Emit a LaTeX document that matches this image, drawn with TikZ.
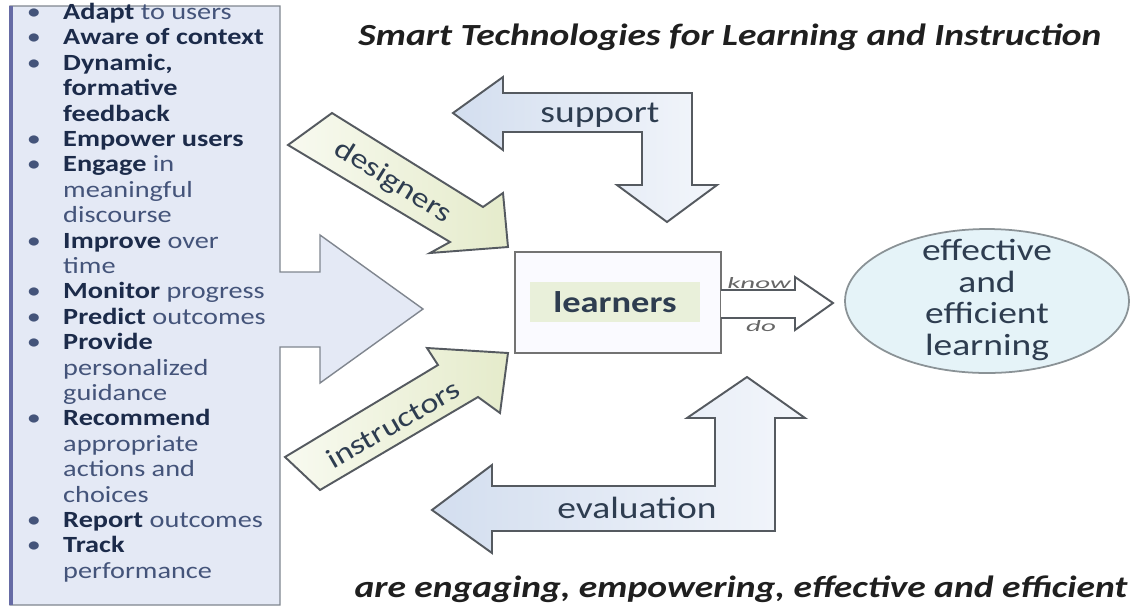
\documentclass[tikz,border=0pt]{standalone}
\usepackage{fontspec}
\setmainfont{Carlito}[FakeStretch=1.22]
\usetikzlibrary{shapes.geometric}
\definecolor{listfill}{HTML}{E4E9F5}
\definecolor{listline}{HTML}{80868F}
\definecolor{arrowline}{HTML}{555A60}
\definecolor{blueA}{HTML}{D3DEEF}
\definecolor{blueB}{HTML}{F3F6FB}
\definecolor{greenA}{HTML}{F8FAF0}
\definecolor{greenB}{HTML}{E5EBCB}
\definecolor{ellfill}{HTML}{E5F3F8}
\definecolor{ellline}{HTML}{8A9296}
\definecolor{bandgreen}{HTML}{E9F0DA}
\definecolor{kwcol}{HTML}{1C2B4A}
\definecolor{rgcol}{HTML}{44547A}
\definecolor{labcol}{HTML}{2E3D50}
\newcommand{\bul}{\makebox[22.7pt][l]{\hspace{2pt}\textbullet}}
\newcommand{\ind}{\hspace*{22.7pt}}
\newcommand{\kw}[1]{\textbf{\color{kwcol}#1}}
\newcommand{\li}[2]{\node[listtext] (li#1) at (23,{19.5+25.4*#1}) {#2};}
\begin{document}
\begin{tikzpicture}[x=0.02cm,y=-0.02cm,
  listtext/.style={anchor=base west, inner sep=0pt, text=rgcol, font=\fontsize{13.2}{15}\selectfont},
  blockarrow/.style={draw=arrowline, line width=1.1pt, line join=miter},
  bluefill/.style={left color=blueA, right color=blueB},
  greenfill/.style={left color=greenA, right color=greenB},
  arrowlabel/.style={text=labcol, font=\fontsize{17.5}{20}\selectfont, inner sep=0pt},
  diaglabel/.style={text=labcol, font=\fontsize{16}{18}\selectfont, inner sep=0pt},
  heading/.style={text=black!88, font=\bfseries\itshape\fontsize{17.5}{20}\selectfont, inner sep=0pt}]
\useasboundingbox (0,0) rectangle (1134,610);
\fill[white] (0,0) rectangle (1134,610);

% list box with big arrow
\draw[draw=listline, line width=0.8pt, fill=listfill]
  (10,6) -- (280,6) -- (280,272) -- (320,272) -- (320,235) -- (423,309)
  -- (320,383) -- (320,347) -- (280,347) -- (280,605) -- (10,605) -- cycle;
\draw[draw=listline!80!blue, line width=2pt] (11,6) -- (11,605);

% list text
\li{0}{\bul\kw{Adapt} to users}
\li{1}{\bul\kw{Aware of context}}
\li{2}{\bul\kw{Dynamic,}}
\li{3}{\ind\kw{formative}}
\li{4}{\ind\kw{feedback}}
\li{5}{\bul\kw{Empower users}}
\li{6}{\bul\kw{Engage} in}
\li{7}{\ind meaningful}
\li{8}{\ind discourse}
\li{9}{\bul\kw{Improve} over}
\li{10}{\ind time}
\li{11}{\bul\kw{Monitor} progress}
\li{12}{\bul\kw{Predict} outcomes}
\li{13}{\bul\kw{Provide}}
\li{14}{\ind personalized}
\li{15}{\ind guidance}
\li{16}{\bul\kw{Recommend}}
\li{17}{\ind appropriate}
\li{18}{\ind actions and}
\li{19}{\ind choices}
\li{20}{\bul\kw{Report} outcomes}
\li{21}{\bul\kw{Track}}
\li{22}{\ind performance}

% support arrow
\draw[blockarrow, bluefill]
  (453,113) -- (503,77) -- (503,93) -- (692,93) -- (692,185) -- (717,185)
  -- (667,222) -- (617,185) -- (642,185) -- (642,132) -- (503,132) -- (503,150) -- cycle;
\node[arrowlabel] (support) at (600,115) {support};

% evaluation arrow
\draw[blockarrow, bluefill]
  (432,510) -- (492,465) -- (492,486) -- (715,486) -- (715,418) -- (687,418)
  -- (747,377) -- (805,418) -- (775,418) -- (775,531) -- (492,531) -- (492,553) -- cycle;
\node[arrowlabel] (evaluation) at (637,508) {evaluation};

% designers arrow
\draw[blockarrow, greenfill]
  (288,145) -- (332,113) -- (483,207) -- (503,193) -- (508,247)
  -- (430,253) -- (450,242) -- cycle;
\node[diaglabel, rotate=-32] (designers) at (393,182) {designers};

% instructors arrow
\draw[blockarrow, greenfill]
  (285,457) -- (438,365) -- (427,348) -- (508,353) -- (500,413)
  -- (478,397) -- (320,490) -- cycle;
\node[diaglabel, rotate=30] (instructors) at (393,424) {instructors};

% learners box
\node[draw=black!55, line width=1.4pt, fill=blue!2, minimum width=4.12cm, minimum height=2.02cm, inner sep=0pt] (learners) at (618,302.5) {};
\node[fill=bandgreen, minimum width=3.4cm, minimum height=0.8cm, inner sep=0pt,
      text=labcol, font=\bfseries\fontsize{17}{20}\selectfont] (lband) at (615,302) {learners};

% know / do arrow
\draw[blockarrow, fill=white]
  (721,290) -- (795,290) -- (795,277) -- (833,303) -- (795,330) -- (795,318) -- (721,318);
\node[inner sep=0pt, text=black!60, font=\itshape\fontsize{9}{10}\selectfont] (know) at (759,283) {\scalebox{1.5}[1]{know}};
\node[inner sep=0pt, text=black!60, font=\itshape\fontsize{9}{10}\selectfont] (do) at (761,326) {\scalebox{1.5}[1]{do}};

% outcome ellipse
\node[draw=ellline, line width=1pt, fill=ellfill, ellipse, minimum width=5.68cm, minimum height=2.88cm] (goal) at (987,301) {};
\node[align=center, text=labcol, inner sep=0pt, font=\fontsize{17.5}{18.1}\selectfont] (goaltext) at (987,300) {effective\\and\\efficient\\learning};

% headings
\node[heading] (title) at (730,37) {Smart Technologies for Learning and Instruction};
\node[heading] (tagline) at (741,589) {are engaging, empowering, effective and efficient};
\end{tikzpicture}
\end{document}
